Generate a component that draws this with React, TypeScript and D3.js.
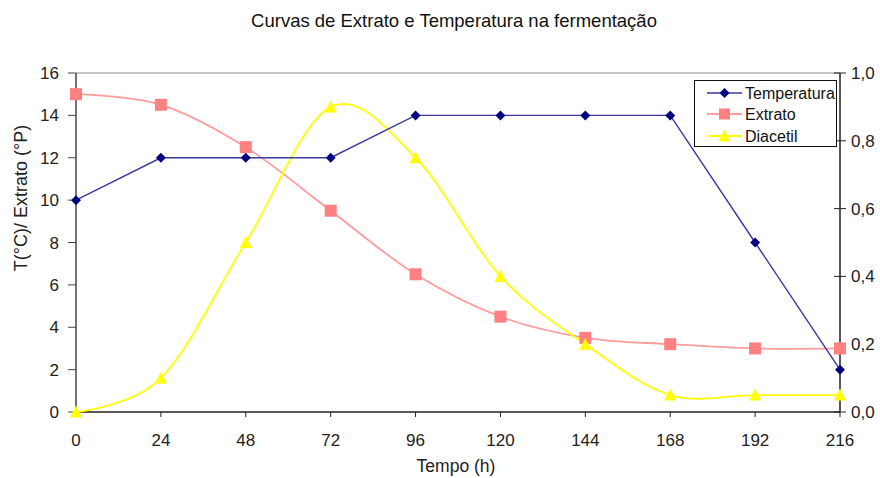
import React from "react";
import * as d3 from "d3";

// Fermentation curves: time (h), temperature (°C), extract (°P) and diacetyl
const hours = [0, 24, 48, 72, 96, 120, 144, 168, 192, 216];
const temperatura = [10, 12, 12, 12, 14, 14, 14, 14, 8, 2];
const extrato = [15, 14.5, 12.5, 9.5, 6.5, 4.5, 3.5, 3.2, 3.0, 3.0];
const diacetil = [0, 0.1, 0.5, 0.9, 0.75, 0.4, 0.2, 0.05, 0.05, 0.05];

const leftTicks = [0, 2, 4, 6, 8, 10, 12, 14, 16];
const rightTicks = [0, 0.2, 0.4, 0.6, 0.8, 1.0];
const xTicks = hours;

const W = 880;
const H = 478;
const FONT = "'Liberation Sans', Arial, sans-serif";

const C_TEMP_LINE = "#3a3a9c";
const C_TEMP_MARK = "#000080";
const C_EXT_LINE = "#ff9c9c";
const C_EXT_MARK = "#ff8080";
const C_DIA = "#ffff00";

function Diamond({ cx, cy, r = 5, fill }: { cx: number; cy: number; r?: number; fill: string }) {
  return <path d={`M${cx},${cy - r}L${cx + r},${cy}L${cx},${cy + r}L${cx - r},${cy}Z`} fill={fill} />;
}

function Square({ cx, cy, s = 12, fill }: { cx: number; cy: number; s?: number; fill: string }) {
  return <rect x={cx - s / 2} y={cy - s / 2} width={s} height={s} fill={fill} />;
}

function Triangle({ cx, cy, w = 12, h = 11, fill }: { cx: number; cy: number; w?: number; h?: number; fill: string }) {
  return (
    <path
      d={`M${cx},${cy - h / 2 - 1}L${cx + w / 2},${cy + h / 2}L${cx - w / 2},${cy + h / 2}Z`}
      fill={fill}
    />
  );
}

export default function App() {
  const x = d3.scaleLinear().domain([0, 216]).range([76, 840]);
  const yL = d3.scaleLinear().domain([0, 16]).range([412, 73]);
  const yR = d3.scaleLinear().domain([0, 1]).range([412, 73]);

  const straight = d3
    .line<number>()
    .x((_, i) => x(hours[i]))
    .y((d) => yL(d));
  const smoothL = d3
    .line<number>()
    .x((_, i) => x(hours[i]))
    .y((d) => yL(d))
    .curve(d3.curveCardinal.tension(0));
  const smoothR = d3
    .line<number>()
    .x((_, i) => x(hours[i]))
    .y((d) => yR(d))
    .curve(d3.curveCardinal.tension(0));

  const fmtR = (v: number) => d3.format(".1f")(v).replace(".", ",");

  const [x0, x1] = x.range();
  const yTop = 73;
  const yBot = 412;

  const legendItems = [
    { label: "Temperatura", kind: "diamond" },
    { label: "Extrato", kind: "square" },
    { label: "Diacetil", kind: "triangle" },
  ];
  const legendRows = [93, 114, 136];

  return (
    <svg
      width={W}
      height={H}
      style={{ position: "absolute", left: 0, top: 0, background: "#fff" }}
      fontFamily={FONT}
    >
      <rect x={0} y={0} width={W} height={H} fill="#fff" />

      {/* title */}
      <text x={454} y={27} textAnchor="middle" fontSize={18.5} fill="#111">
        Curvas de Extrato e Temperatura na fermentação
      </text>

      {/* plot frame */}
      <line x1={x0} x2={x1} y1={yTop} y2={yTop} stroke="#888" strokeWidth={1} />

      {/* left axis */}
      <line x1={x0} x2={x0} y1={yTop} y2={yBot} stroke="#444" strokeWidth={1.5} />
      {leftTicks.map((t) => (
        <g key={`l${t}`}>
          <line x1={68} x2={x0} y1={yL(t)} y2={yL(t)} stroke="#444" strokeWidth={1} />
          <text x={59} y={yL(t) + 6} textAnchor="end" fontSize={17} fill="#222">
            {t}
          </text>
        </g>
      ))}

      {/* right axis */}
      <line x1={x1} x2={x1} y1={yTop} y2={yBot} stroke="#222" strokeWidth={1.5} />
      {rightTicks.map((t) => (
        <g key={`r${t}`}>
          <line x1={834} x2={846} y1={yR(t)} y2={yR(t)} stroke="#222" strokeWidth={1} />
          <text x={851} y={yR(t) + 6} textAnchor="start" fontSize={17} fill="#222">
            {fmtR(t)}
          </text>
        </g>
      ))}

      {/* bottom axis */}
      <line x1={x0} x2={x1} y1={yBot} y2={yBot} stroke="#222" strokeWidth={1.5} />
      {xTicks.map((t) => (
        <g key={`x${t}`}>
          <line x1={x(t)} x2={x(t)} y1={yBot} y2={yBot + 5} stroke="#222" strokeWidth={1} />
          <text x={x(t)} y={446} textAnchor="middle" fontSize={17} fill="#222">
            {t}
          </text>
        </g>
      ))}

      {/* axis titles */}
      <text x={456} y={472} textAnchor="middle" fontSize={17.5} fill="#222">
        Tempo (h)
      </text>
      <text
        transform={`translate(27,198) rotate(-90)`}
        textAnchor="middle"
        fontSize={18}
        fill="#222"
      >
        T(°C)/ Extrato (°P)
      </text>

      {/* series lines */}
      <path d={smoothL(extrato) || ""} fill="none" stroke={C_EXT_LINE} strokeWidth={1.8} />
      <path d={smoothR(diacetil) || ""} fill="none" stroke={C_DIA} strokeWidth={1.8} />
      <path d={straight(temperatura) || ""} fill="none" stroke={C_TEMP_LINE} strokeWidth={1.4} />

      {/* markers */}
      {extrato.map((v, i) => (
        <Square key={`e${i}`} cx={x(hours[i])} cy={yL(v)} fill={C_EXT_MARK} />
      ))}
      {diacetil.map((v, i) => (
        <Triangle key={`d${i}`} cx={x(hours[i])} cy={yR(v)} fill={C_DIA} />
      ))}
      {temperatura.map((v, i) => (
        <Diamond key={`t${i}`} cx={x(hours[i])} cy={yL(v)} fill={C_TEMP_MARK} />
      ))}

      {/* legend */}
      <rect x={694.5} y={80.5} width={142} height={66} fill="#fff" stroke="#111" strokeWidth={1} />
      {legendItems.map((it, i) => {
        const cy = legendRows[i];
        return (
          <g key={it.label}>
            {it.kind === "diamond" && (
              <>
                <line x1={707} x2={742} y1={cy} y2={cy} stroke={C_TEMP_LINE} strokeWidth={1.4} />
                <Diamond cx={724.5} cy={cy} fill={C_TEMP_MARK} />
              </>
            )}
            {it.kind === "square" && (
              <>
                <line x1={707} x2={742} y1={cy} y2={cy} stroke={C_EXT_LINE} strokeWidth={1.8} />
                <Square cx={724.5} cy={cy} s={11} fill={C_EXT_MARK} />
              </>
            )}
            {it.kind === "triangle" && (
              <>
                <line x1={707} x2={742} y1={cy} y2={cy} stroke={C_DIA} strokeWidth={1.8} />
                <Triangle cx={724.5} cy={cy} fill={C_DIA} />
              </>
            )}
            <text x={745} y={cy + 6} fontSize={16} fill="#111">
              {it.label}
            </text>
          </g>
        );
      })}
    </svg>
  );
}
